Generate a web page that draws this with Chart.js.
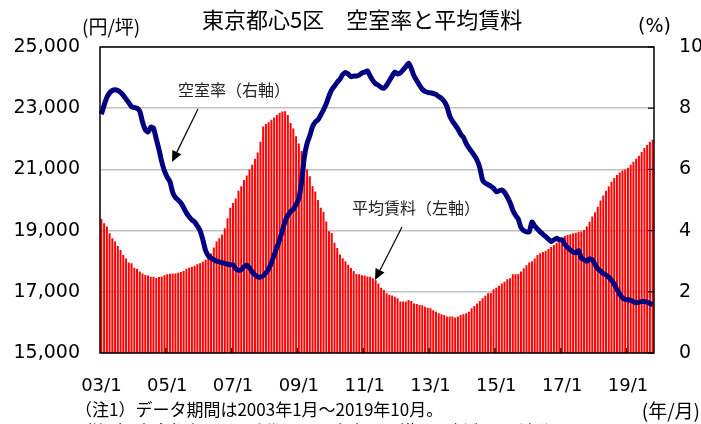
<!DOCTYPE html>
<html>
<head>
<meta charset="utf-8">
<script src="https://cdn.jsdelivr.net/npm/chart.js@4.4.1/dist/chart.umd.min.js"></script>
<style>
  html, body { margin: 0; padding: 0; background: #fff; }
  #wrap { width: 701px; height: 424px; }
</style>
</head>
<body>
<div id="wrap"><canvas id="c" width="701" height="424"></canvas></div>
<script>
// 🟢 data (2003/1 - 2019/10, monthly)
const tickLabels = ['03/1', '05/1', '07/1', '09/1', '11/1', '13/1', '15/1', '17/1', '19/1'];

const months = [];
for (let y = 2003; y <= 2019; y++) {
    for (let m = 1; m <= 12; m++) {
        if (y === 2019 && m > 10) break;
        months.push(String(y).slice(2) + '/' + m);
    }
}

// 平均賃料 (円/坪)
const rent = [
    19380, 19240, 19130, 18910, 18750, 18640, 18500, 18370, 18200, 18090, 17960, 17930,
    17790, 17750, 17660, 17600, 17550, 17530, 17490, 17490, 17450, 17480, 17500, 17540,
    17570, 17590, 17600, 17600, 17620, 17650, 17680, 17750, 17790, 17820, 17850, 17900,
    17930, 17980, 18050, 18120, 18250, 18450, 18640, 18750, 18870, 19080, 19400, 19750,
    19900, 20050, 20300, 20450, 20650, 20800, 21000, 21150, 21350, 21550, 21900, 22400,
    22480, 22540, 22620, 22700, 22780, 22850, 22890, 22900, 22780, 22520, 22340, 22080,
    21850, 21600, 21250, 21000, 20780, 20450, 20280, 20000, 19750, 19620, 19300, 18980,
    18920, 18600, 18430, 18220, 18100, 18000, 17880, 17780, 17680, 17580, 17570, 17540,
    17530, 17500, 17490, 17440, 17380, 17270, 17130, 17060, 16950, 16900, 16880, 16840,
    16790, 16680, 16680, 16680, 16730, 16700, 16620, 16600, 16570, 16560, 16510, 16480,
    16460, 16400, 16350, 16300, 16270, 16240, 16190, 16190, 16190, 16160, 16190, 16240,
    16270, 16300, 16350, 16460, 16540, 16620, 16700, 16790, 16870, 16950, 16960, 17080,
    17130, 17200, 17270, 17330, 17410, 17440, 17570, 17570, 17580, 17660, 17770, 17870,
    17960, 18000, 18090, 18200, 18260, 18300, 18340, 18400, 18460, 18530, 18600, 18690,
    18760, 18820, 18860, 18880, 18910, 18930, 18960, 18970, 19020, 19130, 19290, 19460,
    19600, 19780, 19980, 20150, 20300, 20450, 20600, 20720, 20820, 20900, 20960, 21000,
    21050, 21150, 21250, 21350, 21450, 21570, 21700, 21800, 21900, 21970
];

// 空室率 (%)
const vacancy = [
    7.80, 8.10, 8.35, 8.50, 8.58, 8.60, 8.58, 8.52, 8.42, 8.30, 8.18, 8.05,
    8.02, 8.00, 7.90, 7.55, 7.30, 7.22, 7.38, 7.35, 7.00, 6.65, 6.25, 5.95,
    5.75, 5.60, 5.25, 5.08, 5.00, 4.90, 4.75, 4.58, 4.45, 4.35, 4.28, 4.15,
    4.00, 3.70, 3.35, 3.18, 3.10, 3.05, 3.00, 2.98, 2.95, 2.93, 2.90, 2.88,
    2.88, 2.75, 2.70, 2.72, 2.82, 2.88, 2.78, 2.65, 2.55, 2.49, 2.48, 2.52,
    2.62, 2.75, 2.95, 3.20, 3.45, 3.70, 4.00, 4.30, 4.50, 4.62, 4.70, 4.85,
    5.05, 5.60, 6.40, 6.85, 7.10, 7.40, 7.55, 7.62, 7.78, 7.95, 8.15, 8.40,
    8.60, 8.72, 8.85, 8.95, 9.10, 9.17, 9.12, 9.03, 9.05, 9.05, 9.08, 9.15,
    9.18, 9.22, 9.05, 8.90, 8.80, 8.75, 8.68, 8.65, 8.75, 8.90, 9.05, 9.18,
    9.12, 9.15, 9.25, 9.35, 9.47, 9.30, 9.05, 8.90, 8.75, 8.62, 8.55, 8.52,
    8.50, 8.48, 8.45, 8.38, 8.32, 8.22, 8.05, 7.75, 7.58, 7.45, 7.32, 7.15,
    7.05, 6.85, 6.70, 6.58, 6.45, 6.30, 6.05, 5.65, 5.55, 5.50, 5.45, 5.38,
    5.27, 5.30, 5.33, 5.25, 5.10, 4.92, 4.67, 4.50, 4.38, 4.10, 4.00, 3.96,
    3.96, 4.28, 4.15, 4.05, 3.96, 3.88, 3.80, 3.72, 3.64, 3.70, 3.75, 3.70,
    3.70, 3.55, 3.45, 3.37, 3.30, 3.28, 3.35, 3.10, 3.05, 3.00, 3.08, 3.05,
    2.90, 2.75, 2.68, 2.60, 2.55, 2.48, 2.38, 2.25, 2.08, 1.92, 1.80, 1.75,
    1.74, 1.72, 1.68, 1.64, 1.66, 1.68, 1.68, 1.66, 1.62, 1.58
];

const JP = '"Noto Sans CJK JP", sans-serif';
const NUM = '"DejaVu Sans", Verdana, sans-serif';

// 🟢 arrow helper
function arrow(ctx, x1, y1, x2, y2) {
    const a = Math.atan2(y2 - y1, x2 - x1);
    const len = 11, w = 5;
    ctx.save();
    ctx.strokeStyle = '#000';
    ctx.fillStyle = '#000';
    ctx.lineWidth = 1.2;
    ctx.beginPath();
    ctx.moveTo(x1, y1);
    ctx.lineTo(x2 - Math.cos(a) * len, y2 - Math.sin(a) * len);
    ctx.stroke();
    ctx.beginPath();
    ctx.moveTo(x2, y2);
    ctx.lineTo(x2 - Math.cos(a) * len - Math.sin(a) * w, y2 - Math.sin(a) * len + Math.cos(a) * w);
    ctx.lineTo(x2 - Math.cos(a) * len + Math.sin(a) * w, y2 - Math.sin(a) * len - Math.cos(a) * w);
    ctx.closePath();
    ctx.fill();
    ctx.restore();
}

// 🟢 frame, ticks, titles, notes
const decor = {
    id: 'decor',
    afterDatasetsDraw(chart) {
        const { ctx, chartArea: ca, scales } = chart;
        ctx.save();
        ctx.strokeStyle = '#000';
        ctx.lineWidth = 1.5;
        ctx.strokeRect(ca.left, ca.top, ca.right - ca.left, ca.bottom - ca.top);

        // inward tick marks on right axis
        ctx.lineWidth = 1.2;
        scales.y2.ticks.forEach(t => {
            const y = scales.y2.getPixelForValue(t.value);
            ctx.beginPath();
            ctx.moveTo(ca.right - 6, y);
            ctx.lineTo(ca.right, y);
            ctx.stroke();
        });
        // inward tick marks on x axis, every 2 years
        const half = (scales.x.getPixelForValue(1) - scales.x.getPixelForValue(0)) / 2;
        for (let i = 24; i < months.length; i += 24) {
            const x = scales.x.getPixelForValue(i) - half;
            ctx.beginPath();
            ctx.moveTo(x, ca.bottom);
            ctx.lineTo(x, ca.bottom - 5);
            ctx.stroke();
        }
        ctx.restore();
    },
    afterDraw(chart) {
        const { ctx } = chart;
        ctx.save();
        ctx.fillStyle = '#000';
        ctx.textBaseline = 'middle';

        ctx.font = '22px ' + JP;
        ctx.textAlign = 'left';
        ctx.fillText('東京都心5区　空室率と平均賃料', 202, 20);

        ctx.font = '19px ' + JP;
        ctx.fillText('(円/坪)', 82, 27);
        ctx.font = '19px ' + NUM;
        ctx.fillText('(%)', 638, 27);

        ctx.font = '16px ' + JP;
        ctx.fillStyle = '#222';
        ctx.fillText('空室率（右軸）', 178, 90);
        ctx.fillText('平均賃料（左軸）', 352, 208);
        arrow(ctx, 198, 109, 172, 162);
        arrow(ctx, 402, 227, 375, 280);

        ctx.fillStyle = '#000';
        ctx.font = '17px ' + JP;
        ctx.fillText('（注1）データ期間は2003年1月～2019年10月。', 75, 410);
        ctx.fillText('（注2）東京都心5区は千代田区、中央区、港区、新宿区、渋谷区。', 75, 432);
        ctx.textAlign = 'right';
        ctx.font = '19px ' + JP;
        ctx.fillText('(年/月)', 700, 411);
        ctx.restore();
    }
};

const ctx = document.getElementById('c').getContext('2d');
new Chart(ctx, {
    data: {
        labels: months,
        datasets: [
            {
                type: 'line',
                label: '空室率（右軸）',
                data: vacancy,
                yAxisID: 'y2',
                borderColor: '#000080',
                borderWidth: 5,
                pointRadius: 0,
                tension: 0.2,
                order: 0
            },
            {
                type: 'bar',
                label: '平均賃料（左軸）',
                data: rent,
                yAxisID: 'y',
                backgroundColor: '#ff0000',
                barPercentage: 0.72,
                categoryPercentage: 1,
                order: 1
            }
        ]
    },
    options: {
        responsive: false,
        animation: false,
        layout: { padding: { top: 47, left: 0, right: 0, bottom: 0 } },
        plugins: { legend: { display: false }, tooltip: { enabled: false } },
        scales: {
            x: {
                type: 'category',
                offset: true,
                grid: { display: false },
                border: { display: false },
                ticks: {
                    autoSkip: false,
                    maxRotation: 0,
                    padding: 15,
                    color: '#000',
                    font: { family: NUM, size: 18 },
                    callback: function (v, i) {
                        const l = months[i];
                        return tickLabels.includes(l) ? l : '';
                    }
                },
                afterFit: s => { s.height = 71; }
            },
            y: {
                position: 'left',
                min: 15000,
                max: 25000,
                grid: { color: '#c0c0c0', lineWidth: 1.5, drawTicks: false },
                border: { display: false },
                ticks: {
                    stepSize: 2000,
                    padding: 20,
                    color: '#000',
                    font: { family: NUM, size: 19 },
                    callback: v => v.toLocaleString('en-US')
                },
                afterFit: s => { s.width = 100; }
            },
            y2: {
                position: 'right',
                min: 0,
                max: 10,
                grid: { display: false, drawTicks: false },
                border: { display: false },
                ticks: {
                    stepSize: 2,
                    padding: 25,
                    color: '#000',
                    font: { family: NUM, size: 19 }
                },
                afterFit: s => { s.width = 47; }
            }
        }
    },
    plugins: [decor]
});
</script>
</body>
</html>
